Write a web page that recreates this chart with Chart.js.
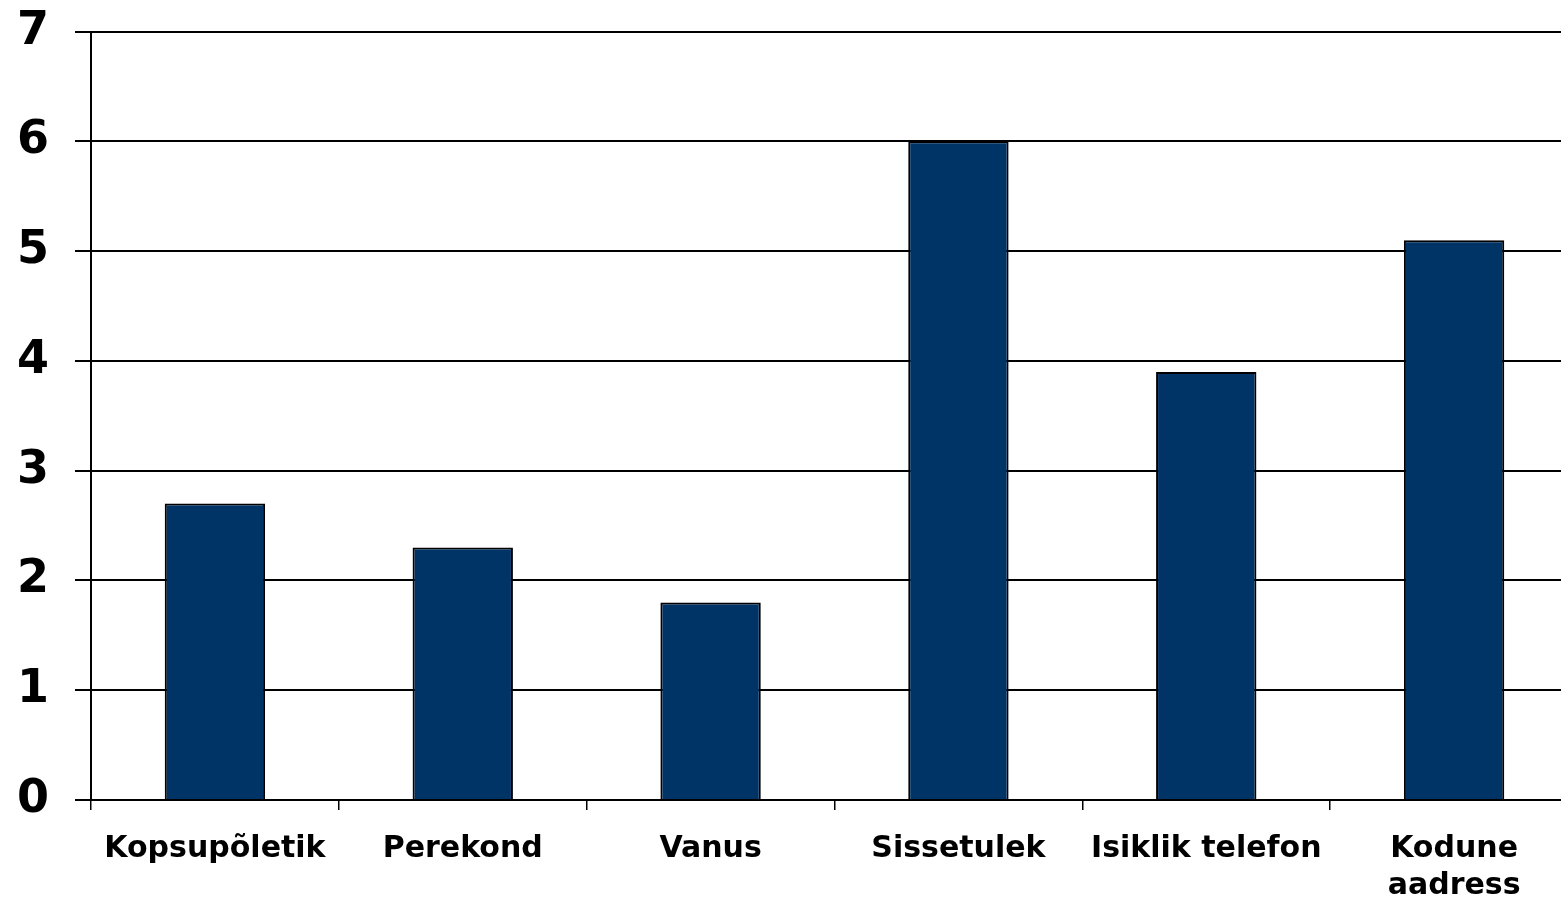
<!DOCTYPE html>
<html lang="et">
<head>
<meta charset="UTF-8">
<title>Tulpdiagramm</title>
<script src="https://cdn.jsdelivr.net/npm/chart.js"></script>
<style>
    body { margin: 0; background: white; }
    #frame { width: 1561px; height: 898px; position: relative; overflow: hidden; }
    #wrap { width: 1578px; height: 920px; position: absolute; left: 0; top: -22px; }
</style>
</head>
<body>
<div id="frame"><div id="wrap"><canvas id="chart"></canvas></div></div>
<script>
    const categories = ['Kopsupõletik', 'Perekond', 'Vanus', 'Sissetulek', 'Isiklik telefon', ['Kodune', 'aadress']];
    const values = [2.7, 2.3, 1.8, 6.0, 3.9, 5.1];
    const yTicks = [0, 1, 2, 3, 4, 5, 6, 7];

    const font = 'DejaVu Sans, Verdana, sans-serif';

    new Chart(document.getElementById('chart'), {
        type: 'bar',
        data: {
            labels: categories,
            datasets: [{
                data: values,
                backgroundColor: '#003366',
                borderColor: '#000000',
                borderWidth: 2,
                categoryPercentage: 1,
                barPercentage: 0.405
            }]
        },
        options: {
            responsive: true,
            maintainAspectRatio: false,
            animation: false,
            layout: { padding: { top: 11, right: 0, bottom: 0, left: 0 } },
            plugins: { legend: { display: false }, tooltip: { enabled: false } },
            scales: {
                x: {
                    grid: { drawOnChartArea: false, color: '#000', lineWidth: 1.5, tickLength: 10, offset: true },
                    border: { color: '#000', width: 2 },
                    ticks: {
                        color: '#000',
                        font: { family: font, size: 30, weight: 'bold', lineHeight: 1.25 },
                        padding: 20,
                        maxRotation: 0,
                        autoSkip: false
                    },
                    afterFit: s => { s.height = 98; }
                },
                y: {
                    min: 0,
                    max: 7,
                    afterBuildTicks: s => { s.ticks = yTicks.map(v => ({ value: v })); },
                    grid: { color: '#000', lineWidth: 2, tickLength: 16 },
                    border: { color: '#000', width: 2 },
                    ticks: {
                        color: '#000',
                        font: { family: font, size: 46, weight: 'bold' },
                        padding: 26
                    },
                    afterFit: s => { s.width = 91; }
                }
            }
        }
    });
</script>
</body>
</html>
